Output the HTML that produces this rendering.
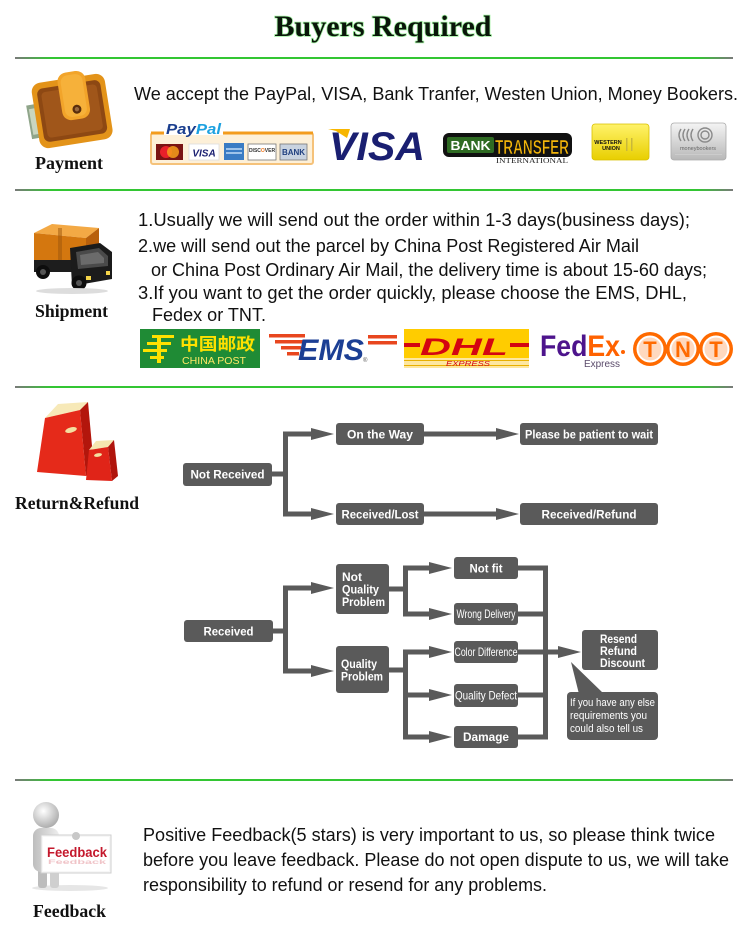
<!DOCTYPE html>
<html><head><meta charset="utf-8">
<style>
html,body{margin:0;padding:0;background:#fff;width:750px;height:940px;overflow:hidden;}
svg{display:block;}
</style></head><body>
<svg width="750" height="940" viewBox="0 0 750 940" xmlns="http://www.w3.org/2000/svg" font-family="'Liberation Sans', Arial, sans-serif">
<defs>
<linearGradient id="gl" x1="0" x2="1" y1="0" y2="0">
<stop offset="0" stop-color="#7a7a7a"/><stop offset="0.05" stop-color="#33c633"/><stop offset="0.95" stop-color="#33c633"/><stop offset="1" stop-color="#7a7a7a"/>
</linearGradient>
<linearGradient id="wu" x1="0" x2="0" y1="0" y2="1"><stop offset="0" stop-color="#fff36a"/><stop offset="1" stop-color="#e8cf00"/></linearGradient>
<linearGradient id="mb" x1="0" x2="0" y1="0" y2="1"><stop offset="0" stop-color="#f4f4f4"/><stop offset="1" stop-color="#b8b8b8"/></linearGradient>
<radialGradient id="head" cx="0.4" cy="0.35" r="0.7"><stop offset="0" stop-color="#ffffff"/><stop offset="1" stop-color="#a8a8a8"/></radialGradient>
<linearGradient id="body" x1="0" x2="1"><stop offset="0" stop-color="#bdbdbd"/><stop offset="1" stop-color="#eeeeee"/></linearGradient>
</defs>

<!-- Title -->
<text x="383" y="36" text-anchor="middle" font-family="'Liberation Serif',serif" font-weight="bold" font-size="30" fill="none" stroke="#2ee02e" stroke-width="1.6" opacity="0.45">Buyers Required</text>
<text x="383" y="36" text-anchor="middle" font-family="'Liberation Serif',serif" font-weight="bold" font-size="30" fill="#0a160a">Buyers Required</text>

<!-- separator lines -->
<rect x="15" y="57" width="718" height="2" fill="url(#gl)"/>
<rect x="15" y="189" width="718" height="2" fill="url(#gl)"/>
<rect x="15" y="386" width="718" height="2" fill="url(#gl)"/>
<rect x="15" y="779" width="718" height="2" fill="url(#gl)"/>

<!-- ===== Payment ===== -->
<g>
  <rect x="29" y="104" width="16" height="34" fill="#8fa58a" transform="rotate(-10 37 121)"/>
  <rect x="31" y="108" width="10" height="26" fill="#c9d6c0" transform="rotate(-10 37 121)"/>
  <g transform="rotate(-9 72 110)">
    <rect x="35" y="78" width="74" height="66" rx="9" fill="#e39319"/>
    <rect x="40" y="84" width="64" height="54" rx="6" fill="#8d4813"/>
    <rect x="44" y="88" width="56" height="46" rx="4" fill="#a0561a"/>
    <rect x="62" y="72" width="28" height="48" rx="9" fill="#f2a42a"/>
    <rect x="65" y="75" width="22" height="42" rx="7" fill="#f6b13a"/>
    <circle cx="77" cy="110" r="4.5" fill="#5a2e0c"/>
    <circle cx="77" cy="110" r="2.2" fill="#9a6a40"/>
  </g>
</g>
<text x="35" y="169" font-family="'Liberation Serif',serif" font-weight="bold" font-size="18" fill="#111" textLength="68" lengthAdjust="spacingAndGlyphs">Payment</text>
<text x="134" y="100" font-size="18" fill="#111" textLength="604" lengthAdjust="spacingAndGlyphs">We accept the PayPal, VISA, Bank Tranfer, Westen Union, Money Bookers.</text>

<!-- PayPal -->
<rect x="151" y="133" width="162" height="31" rx="2" fill="#fdf0d8" stroke="#f5c27a" stroke-width="2"/>
<rect x="151" y="131.5" width="162" height="3" fill="#f39c1d"/>
<rect x="164" y="121" width="59" height="14" fill="#fff"/>
<text x="166" y="134" font-weight="bold" font-style="italic" font-size="15" textLength="55" lengthAdjust="spacingAndGlyphs"><tspan fill="#1b3f8f">Pay</tspan><tspan fill="#1da1e0">Pal</tspan></text>
<rect x="156" y="144" width="27" height="16" fill="#7a1414"/>
<circle cx="166" cy="152" r="6" fill="#e8202a"/>
<circle cx="173" cy="152" r="6" fill="#f79e1b" opacity="0.85"/>
<rect x="189" y="144" width="30" height="16" fill="#fff" stroke="#ddd" stroke-width="0.8"/>
<text x="204" y="156.5" text-anchor="middle" font-weight="bold" font-style="italic" font-size="10" fill="#1a1f71">VISA</text>
<rect x="224" y="143" width="20" height="17" fill="#3a7cc4"/>
<rect x="226" y="148" width="16" height="2" fill="#9fc4ea"/>
<rect x="226" y="152" width="16" height="2" fill="#9fc4ea"/>
<rect x="248" y="144" width="28" height="16" fill="#fff" stroke="#777" stroke-width="0.8"/>
<text x="262" y="152" text-anchor="middle" font-weight="bold" font-size="5" fill="#333">DISC<tspan fill="#f47b20">O</tspan>VER</text>
<rect x="280" y="144" width="27" height="16" fill="#c9d3e0" stroke="#777" stroke-width="0.8"/>
<text x="293.5" y="155" text-anchor="middle" font-weight="bold" font-size="8" fill="#1f3f7f">BANK</text>

<!-- VISA -->
<polygon points="328,129 350,129 347,138 336,131" fill="#f7b600"/>
<text x="329" y="160" font-weight="bold" font-style="italic" font-size="40" fill="#1a1f71" textLength="96" lengthAdjust="spacingAndGlyphs">VISA</text>

<!-- Bank Transfer -->
<rect x="443" y="133" width="129" height="24" rx="6" fill="#111"/>
<rect x="447" y="137" width="47" height="16" rx="2" fill="#2f6b23"/>
<text x="470.5" y="150" text-anchor="middle" font-weight="bold" font-size="13" fill="#fff" textLength="40" lengthAdjust="spacingAndGlyphs">BANK</text>
<text x="495" y="154" font-weight="bold" font-size="20" fill="#f3b50a" stroke="#111" stroke-width="0.6" textLength="74" lengthAdjust="spacingAndGlyphs">TRANSFER</text>
<text x="496" y="163" font-family="'Liberation Serif',serif" font-size="7.5" fill="#222" textLength="72" lengthAdjust="spacingAndGlyphs">INTERNATIONAL</text>

<!-- Western Union -->
<rect x="592" y="124" width="57" height="36" rx="3" fill="url(#wu)" stroke="#d9c000" stroke-width="0.8"/>
<text x="608" y="144" text-anchor="middle" font-weight="bold" font-size="5.5" fill="#111">WESTERN</text>
<text x="611" y="150" text-anchor="middle" font-weight="bold" font-size="5.5" fill="#111">UNION</text>
<rect x="626" y="138" width="1.5" height="13" fill="#c9b83a"/>
<rect x="631" y="138" width="1.5" height="13" fill="#c9b83a"/>

<!-- Moneybookers -->
<rect x="671" y="123" width="55" height="37" rx="3" fill="url(#mb)" stroke="#aaa" stroke-width="0.8"/>
<g fill="none" stroke="#8a8a8a" stroke-width="1.4">
  <path d="M681,129 q-4,6 0,12"/><path d="M685,129 q-4,6 0,12"/><path d="M689,129 q-4,6 0,12"/><path d="M693,129 q-4,6 0,12"/>
  <circle cx="705" cy="135" r="7"/><circle cx="705" cy="135" r="4"/>
</g>
<text x="698" y="150" text-anchor="middle" font-size="5.5" fill="#666">moneybookers</text>
<rect x="675" y="154" width="47" height="1" fill="#ccc"/>

<!-- ===== Shipment ===== -->
<g>
  <polygon points="34,233 52,224 99,228 86,238" fill="#f3a945"/>
  <polygon points="34,233 86,238 86,267 34,262" fill="#d4770f"/>
  <polygon points="86,238 99,228 99,250 86,258" fill="#b8600c"/>
  <rect x="58" y="228" width="4" height="36" fill="#9b560c" opacity="0.5"/>
  <rect x="34" y="260" width="40" height="12" fill="#1d1d1d"/>
  <polygon points="70,248 100,243 112,252 112,279 72,286" fill="#1b1b1b"/>
  <polygon points="76,252 99,248 108,256 108,266 78,269" fill="#4a4a4a"/>
  <polygon points="80,255 98,252 104,258 104,263 81,265" fill="#6b6b6b"/>
  <circle cx="43" cy="272" r="7" fill="#0d0d0d"/><circle cx="43" cy="272" r="3" fill="#555"/>
  <circle cx="79" cy="283" r="7.5" fill="#0d0d0d"/><circle cx="79" cy="283" r="3" fill="#555"/>
  <rect x="86" y="276" width="5" height="4" fill="#f5d54a"/>
  <rect x="106" y="271" width="4" height="4" fill="#f5d54a"/>
  <ellipse cx="72" cy="291" rx="36" ry="3" fill="#ddd"/>
</g>
<text x="35" y="317" font-family="'Liberation Serif',serif" font-weight="bold" font-size="18" fill="#111" textLength="73" lengthAdjust="spacingAndGlyphs">Shipment</text>

<text x="138" y="226" font-size="18" fill="#111" textLength="552" lengthAdjust="spacingAndGlyphs">1.Usually we will send out the order within 1-3 days(business days);</text>
<text x="138" y="252" font-size="18" fill="#111" textLength="501" lengthAdjust="spacingAndGlyphs">2.we will send out the parcel by China Post Registered Air Mail</text>
<text x="151" y="276" font-size="18" fill="#111" textLength="556" lengthAdjust="spacingAndGlyphs">or China Post Ordinary Air Mail, the delivery time is about 15-60 days;</text>
<text x="138" y="299" font-size="18" fill="#111" textLength="549" lengthAdjust="spacingAndGlyphs">3.If you want to get the order quickly, please choose the EMS, DHL,</text>
<text x="152" y="321" font-size="18" fill="#111" textLength="114" lengthAdjust="spacingAndGlyphs">Fedex or TNT.</text>

<!-- China Post -->
<rect x="140" y="329" width="120" height="39" fill="#1f8b35"/>
<g fill="#ffe100">
  <rect x="152" y="335" width="22" height="3"/>
  <rect x="147" y="342" width="24" height="3"/>
  <rect x="143" y="349" width="24" height="3"/>
  <rect x="157" y="335" width="4" height="28"/>
  <rect x="150" y="356" width="14" height="3"/>
</g>
<text x="180" y="350" font-family="'Liberation Sans','Noto Sans CJK SC',sans-serif" font-weight="bold" font-size="17" fill="#ffe100" textLength="75" lengthAdjust="spacingAndGlyphs">中国邮政</text>
<text x="182" y="364" font-size="10" fill="#ffe866" textLength="64" lengthAdjust="spacingAndGlyphs">CHINA POST</text>

<!-- EMS -->
<g fill="#e8461e">
  <rect x="269" y="334" width="36" height="3.5"/>
  <rect x="275" y="340" width="28" height="3.5"/>
  <rect x="281" y="346" width="20" height="3.5"/>
  <rect x="287" y="352" width="12" height="3.5"/>
  <rect x="368" y="335" width="29" height="3.5"/>
  <rect x="368" y="341" width="29" height="3.5"/>
</g>
<text x="298" y="360" font-weight="bold" font-style="italic" font-size="30" fill="#1c3f94" textLength="66" lengthAdjust="spacingAndGlyphs">EMS</text>
<text x="363" y="362" font-size="6" fill="#555">®</text>

<!-- DHL -->
<rect x="404" y="329" width="125" height="39" fill="#ffcc00"/>
<rect x="404" y="358" width="125" height="10" fill="#fde7a0"/>
<rect x="404" y="360" width="125" height="1" fill="#e8b000"/>
<rect x="404" y="365" width="125" height="1" fill="#e8b000"/>
<g fill="#d40511">
  <rect x="404" y="343" width="16" height="4"/>
  <rect x="510" y="343" width="19" height="4"/>
</g>
<text x="420" y="355" font-weight="bold" font-style="italic" font-size="24" fill="#d40511" textLength="88" lengthAdjust="spacingAndGlyphs">DHL</text>
<text x="446" y="366" font-style="italic" font-size="7" fill="#d40511" textLength="44" lengthAdjust="spacingAndGlyphs">EXPRESS</text>

<!-- FedEx -->
<text x="540" y="356" font-weight="bold" font-size="30" textLength="80" lengthAdjust="spacingAndGlyphs"><tspan fill="#4d148c">Fed</tspan><tspan fill="#ff6200">Ex</tspan></text>
<circle cx="623" cy="352" r="2" fill="#ff6200"/>
<text x="584" y="367" font-size="10" fill="#5a4a6a" textLength="36" lengthAdjust="spacingAndGlyphs">Express</text>

<!-- TNT -->
<g>
  <circle cx="650" cy="349" r="17" fill="#ff6a00"/><circle cx="650" cy="349" r="13.5" fill="#fff"/><circle cx="650" cy="349" r="11.5" fill="#ffd9bf"/>
  <circle cx="683" cy="349" r="17" fill="#ff6a00"/><circle cx="683" cy="349" r="13.5" fill="#fff"/><circle cx="683" cy="349" r="11.5" fill="#ffd9bf"/>
  <circle cx="716" cy="349" r="17" fill="#ff6a00"/><circle cx="716" cy="349" r="13.5" fill="#fff"/><circle cx="716" cy="349" r="11.5" fill="#ffd9bf"/>
  <text x="650" y="357" text-anchor="middle" font-weight="bold" font-size="22" fill="#ff6a00">T</text>
  <text x="683" y="357" text-anchor="middle" font-weight="bold" font-size="22" fill="#ff6a00">N</text>
  <text x="716" y="357" text-anchor="middle" font-weight="bold" font-size="22" fill="#ff6a00">T</text>
</g>

<!-- ===== Return & Refund ===== -->
<g>
  <polygon points="45,418 58,404 88,402 80,410" fill="#f7e9b8"/>
  <polygon points="45,418 80,410 86,476 37,472" fill="#e52a1a"/>
  <polygon points="80,410 88,402 94,468 86,476" fill="#b3160c"/>
  <ellipse cx="71" cy="430" rx="6" ry="2.6" fill="#f3dfa0" transform="rotate(-15 71 430)"/>
  <polygon points="89,450 96,441 114,440 108,447" fill="#f5e6b0"/>
  <polygon points="89,450 108,447 112,481 86,480" fill="#e02418"/>
  <polygon points="108,447 114,440 118,476 112,481" fill="#b0140c"/>
  <ellipse cx="98" cy="455" rx="4" ry="1.8" fill="#f3dfa0" transform="rotate(-10 98 455)"/>
</g>
<text x="15" y="509" font-family="'Liberation Serif',serif" font-weight="bold" font-size="18" fill="#111" textLength="124" lengthAdjust="spacingAndGlyphs">Return&amp;Refund</text>

<!-- Flowchart top -->
<g fill="#5a5a5a">
  <rect x="272" y="471.5" width="16" height="5"/>
  <rect x="283" y="431.5" width="5" height="85"/>
  <rect x="283" y="431.5" width="29" height="5"/><polygon points="311,428 334,434 311,440"/>
  <rect x="283" y="511.5" width="29" height="5"/><polygon points="311,508 334,514 311,520"/>
  <rect x="424" y="431.5" width="73" height="5"/><polygon points="496,428 519,434 496,440"/>
  <rect x="424" y="511.5" width="73" height="5"/><polygon points="496,508 519,514 496,520"/>
  <rect x="183" y="463" width="89" height="23" rx="3"/>
  <rect x="336" y="423" width="88" height="22" rx="3"/>
  <rect x="520" y="423" width="138" height="22" rx="3"/>
  <rect x="336" y="503" width="88" height="22" rx="3"/>
  <rect x="520" y="503" width="138" height="22" rx="3"/>
</g>
<g fill="#fff" font-weight="bold" font-size="12" text-anchor="middle">
  <text x="227.5" y="478.5" textLength="74" lengthAdjust="spacingAndGlyphs">Not Received</text>
  <text x="380" y="438.5" textLength="66" lengthAdjust="spacingAndGlyphs">On the Way</text>
  <text x="589" y="438.5" textLength="128" lengthAdjust="spacingAndGlyphs">Please be patient to wait</text>
  <text x="380" y="518.5" textLength="77" lengthAdjust="spacingAndGlyphs">Received/Lost</text>
  <text x="589" y="518.5" textLength="95" lengthAdjust="spacingAndGlyphs">Received/Refund</text>
</g>

<!-- Flowchart bottom -->
<g fill="#5a5a5a">
  <rect x="273" y="628.5" width="15" height="5"/>
  <rect x="283" y="585.5" width="5" height="88"/>
  <rect x="283" y="585.5" width="29" height="5"/><polygon points="311,582 334,588 311,594"/>
  <rect x="283" y="668.5" width="29" height="5"/><polygon points="311,665 334,671 311,677"/>
  <rect x="389" y="586.5" width="19" height="5"/>
  <rect x="403" y="565.5" width="5" height="51"/>
  <rect x="403" y="565.5" width="27" height="5"/><polygon points="429,562 452,568 429,574"/>
  <rect x="403" y="611.5" width="27" height="5"/><polygon points="429,608 452,614 429,620"/>
  <rect x="389" y="667.5" width="19" height="5"/>
  <rect x="403" y="649.5" width="5" height="90"/>
  <rect x="403" y="649.5" width="27" height="5"/><polygon points="429,646 452,652 429,658"/>
  <rect x="403" y="692.5" width="27" height="5"/><polygon points="429,689 452,695 429,701"/>
  <rect x="403" y="734.5" width="27" height="5"/><polygon points="429,731 452,737 429,743"/>
  <rect x="518" y="565.5" width="30" height="5"/>
  <rect x="518" y="611.5" width="30" height="5"/>
  <rect x="518" y="649.5" width="30" height="5"/>
  <rect x="518" y="692.5" width="30" height="5"/>
  <rect x="518" y="734.5" width="30" height="5"/>
  <rect x="543" y="565.5" width="5" height="174"/>
  <rect x="543" y="649.5" width="16" height="5"/><polygon points="558,646 581,652 558,658"/>
  <rect x="184" y="620" width="89" height="22" rx="3"/>
  <rect x="336" y="564" width="53" height="50" rx="3"/>
  <rect x="336" y="646" width="53" height="47" rx="3"/>
  <rect x="454" y="557" width="64" height="22" rx="3"/>
  <rect x="454" y="603" width="64" height="22" rx="3"/>
  <rect x="454" y="641" width="64" height="22" rx="3"/>
  <rect x="454" y="684" width="64" height="23" rx="3"/>
  <rect x="454" y="726" width="64" height="22" rx="3"/>
  <rect x="582" y="630" width="76" height="40" rx="3"/>
  <rect x="567" y="692" width="91" height="48" rx="4"/>
  <polygon points="571,662 579,694 604,694"/>
</g>
<g fill="#fff" font-size="12">
  <text x="228.5" y="635.5" text-anchor="middle" font-weight="bold" textLength="50" lengthAdjust="spacingAndGlyphs">Received</text>
  <text x="342" y="581" font-weight="bold" textLength="20" lengthAdjust="spacingAndGlyphs">Not</text>
  <text x="342" y="593.5" font-weight="bold" textLength="37" lengthAdjust="spacingAndGlyphs">Quality</text>
  <text x="342" y="606" font-weight="bold" textLength="43" lengthAdjust="spacingAndGlyphs">Problem</text>
  <text x="341" y="668" font-weight="bold" textLength="36" lengthAdjust="spacingAndGlyphs">Quality</text>
  <text x="341" y="680.5" font-weight="bold" textLength="42" lengthAdjust="spacingAndGlyphs">Problem</text>
  <text x="486" y="572.5" text-anchor="middle" font-weight="bold" textLength="33" lengthAdjust="spacingAndGlyphs">Not fit</text>
  <text x="486" y="618" text-anchor="middle" textLength="59" lengthAdjust="spacingAndGlyphs">Wrong Delivery</text>
  <text x="486" y="656" text-anchor="middle" textLength="63" lengthAdjust="spacingAndGlyphs">Color Difference</text>
  <text x="486" y="699.5" text-anchor="middle" textLength="62" lengthAdjust="spacingAndGlyphs">Quality Defect</text>
  <text x="486" y="741" text-anchor="middle" font-weight="bold" textLength="46" lengthAdjust="spacingAndGlyphs">Damage</text>
  <text x="600" y="643" font-weight="bold" textLength="37" lengthAdjust="spacingAndGlyphs">Resend</text>
  <text x="600" y="655" font-weight="bold" textLength="37" lengthAdjust="spacingAndGlyphs">Refund</text>
  <text x="600" y="667" font-weight="bold" textLength="45" lengthAdjust="spacingAndGlyphs">Discount</text>
  <text x="570" y="706" font-size="11" textLength="85" lengthAdjust="spacingAndGlyphs">If you have any else</text>
  <text x="570" y="719" font-size="11" textLength="77" lengthAdjust="spacingAndGlyphs">requirements you</text>
  <text x="570" y="732" font-size="11" textLength="73" lengthAdjust="spacingAndGlyphs">could also tell us</text>
</g>

<!-- ===== Feedback ===== -->
<g>
  <ellipse cx="70" cy="888" rx="38" ry="3" fill="#e6e6e6"/>
  <rect x="38" y="866" width="9" height="22" rx="3" fill="#bdbdbd"/>
  <rect x="50" y="866" width="9" height="22" rx="3" fill="#cfcfcf"/>
  <rect x="33" y="828" width="26" height="44" rx="8" fill="url(#body)"/>
  <circle cx="46" cy="815" r="13" fill="url(#head)"/>
  <rect x="41" y="835" width="70" height="38" fill="#f7f7f7" stroke="#cfcfcf" stroke-width="1"/>
  <rect x="43" y="837" width="66" height="34" fill="#ffffff"/>
  <circle cx="76" cy="836" r="4" fill="#c8c8c8"/>
  <text x="77" y="857" text-anchor="middle" font-weight="bold" font-size="14" fill="#c4182c" textLength="60" lengthAdjust="spacingAndGlyphs">Feedback</text>
  <text x="77" y="864" text-anchor="middle" font-weight="bold" font-size="6" fill="#f0c4c8" textLength="58" lengthAdjust="spacingAndGlyphs">Feedback</text>
</g>
<text x="33" y="917" font-family="'Liberation Serif',serif" font-weight="bold" font-size="18" fill="#111" textLength="73" lengthAdjust="spacingAndGlyphs">Feedback</text>

<text x="143" y="841" font-size="18" fill="#111" textLength="572" lengthAdjust="spacingAndGlyphs">Positive Feedback(5 stars) is very important to us, so please think twice</text>
<text x="143" y="866" font-size="18" fill="#111" textLength="586" lengthAdjust="spacingAndGlyphs">before you leave feedback. Please do not open dispute to us, we will take</text>
<text x="143" y="891" font-size="18" fill="#111" textLength="404" lengthAdjust="spacingAndGlyphs">responsibility to refund or resend for any problems.</text>
</svg>
</body></html>
